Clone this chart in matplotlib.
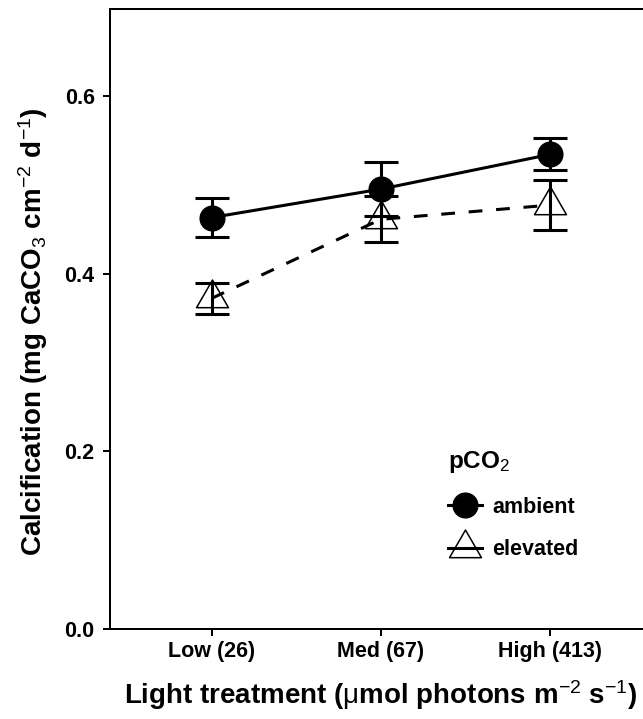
import numpy as np
import matplotlib
matplotlib.use("Agg")
import matplotlib.pyplot as plt
from matplotlib.lines import Line2D
from matplotlib.path import Path

# values (mean +/- error bar half-height)
light_levels = ["Low (26)", "Med (67)", "High (413)"]
ambient_mean = [0.463, 0.495, 0.534]
ambient_err = [0.022, 0.030, 0.018]
elevated_mean = [0.372, 0.461, 0.477]
elevated_err = [0.017, 0.026, 0.028]
y_ticks = [0.0, 0.2, 0.4, 0.6]

plt.rcParams["font.family"] = "Liberation Sans"
# sub/superscripts and the mu are plain weight in the original
plt.rcParams["mathtext.fontset"] = "custom"
plt.rcParams["mathtext.rm"] = "Liberation Sans:normal"
plt.rcParams["mathtext.it"] = "Liberation Sans:normal"
plt.rcParams["mathtext.bf"] = "Liberation Sans:bold"

W, H = 643, 719
fig = plt.figure(figsize=(W / 100, H / 100), dpi=100)
# panel runs past the right edge, like the cropped original
ax = fig.add_axes([110 / W, (H - 629) / H, 541.6 / W, 620.3 / H])

x = np.arange(1, len(light_levels) + 1)
LW = 2.2

# hollow triangle centred on its centroid (R shape 2)
tri = Path([(-16, -9.2), (16, -9.2), (0, 18.5), (-16, -9.2)],
           [Path.MOVETO, Path.LINETO, Path.LINETO, Path.CLOSEPOLY])

for mean, err in [(ambient_mean, ambient_err), (elevated_mean, elevated_err)]:
    ax.errorbar(x, mean, yerr=err, fmt="none", ecolor="black",
                elinewidth=LW, capsize=11.9, capthick=LW, zorder=2)

ax.plot(x, ambient_mean, color="black", lw=LW, zorder=3)
ax.plot(x, elevated_mean, color="black", lw=LW, ls=(0, (4.5, 4.5)), zorder=3)

ax.plot(x, ambient_mean, ls="none", marker="o", ms=17.8,
        mfc="black", mec="black", zorder=4)
ax.plot(x, elevated_mean, ls="none", marker=tri, ms=26.6,
        mfc="none", mec="black", mew=1.1, zorder=4)

ax.set_xlim(0.4, 3.6)
ax.set_ylim(0, 0.698)
ax.set_xticks(x)
ax.set_xticklabels(light_levels, fontweight="bold")
ax.set_yticks(y_ticks)
ax.set_yticklabels([f"{v:.1f}" for v in y_ticks], fontweight="bold")

for side in ["left", "bottom", "top", "right"]:
    ax.spines[side].set_linewidth(1.44)
ax.tick_params(axis="both", length=5, width=1.44, labelsize=15.5, colors="black")
ax.tick_params(axis="y", pad=6)
ax.tick_params(axis="x", pad=3.5)

ax.set_xlabel(r"Light treatment ($\mu$mol photons m$^{-2}$ s$^{-1}$)",
              fontsize=20, fontweight="bold")
ax.xaxis.set_label_coords(0.5, -0.08)
ax.set_ylabel(r"Calcification (mg CaCO$_3$ cm$^{-2}$ d$^{-1}$)",
              fontsize=20, fontweight="bold")
ax.yaxis.set_label_coords(-0.142, 0.48)
ax.yaxis.label.set_verticalalignment("center")

handles = [
    Line2D([], [], color="black", lw=LW, marker="o", ms=17.8, mfc="black"),
    Line2D([], [], color="black", lw=LW, marker=tri, ms=26.6, mfc="none", mew=1.1),
]
leg = ax.legend(handles, ["ambient", "elevated"], title="pCO$_2$",
                loc="upper left", bbox_to_anchor=(448 / W, (H - 449) / H),
                bbox_transform=fig.transFigure, frameon=False,
                prop={"size": 15.5, "weight": "bold"}, title_fontsize=17.5,
                alignment="left", handlelength=1.6, handletextpad=0.45,
                labelspacing=1.0, borderpad=0, borderaxespad=0)
leg.get_title().set_fontweight("bold")

plt.savefig("out.png", dpi=100)
